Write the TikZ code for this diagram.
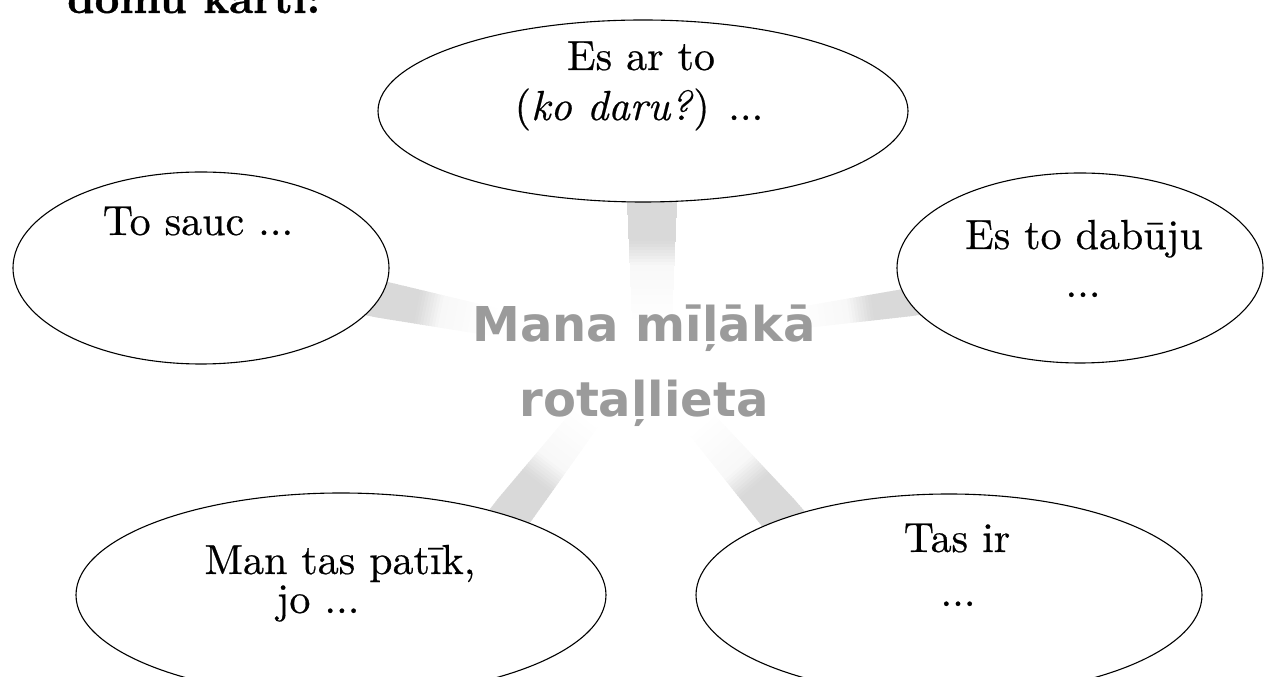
\documentclass[tikz,border=0pt]{standalone}
\usepackage{fontspec}
\newfontfamily\ctrfont{DejaVu Sans}
\newfontfamily\bubfont{lmroman10-regular.otf}[ItalicFont=lmroman10-italic.otf, FakeBold=0.5]
\newfontfamily\headfont{lmroman10-bold.otf}[FakeBold=0.8]
\usetikzlibrary{shapes.geometric,calc}
\definecolor{conngray}{RGB}{217,217,217}
\definecolor{ctrgray}{RGB}{155,155,155}
\newcommand{\connband}[4]{%
  \foreach \dd in {-30,-27,...,120}{%
    \pgfmathtruncatemacro\gg{\dd<38 ? 100 : (\dd<62 ? 100-(\dd-38)*3.3 : max(0,20-(\dd-62)/3))}%
    \pgfmathsetmacro\ww{#3+(#4-#3)*max(\dd,0)/120}%
    \draw[line width=\ww pt, draw=conngray!\gg!white] ($(#1)!\dd pt!(#2)$) -- ($(#1)!\dd pt+4pt!(#2)$);
  }}
\begin{document}
\begin{tikzpicture}[x=1pt,y=1pt,
  bub/.style={ellipse, draw=black, line width=1.1pt, fill=white, inner sep=0pt, outer sep=0pt},
  lbl/.style={anchor=base, inner sep=0pt, font=\bubfont\fontsize{42}{50}\selectfont},
  ctr/.style={anchor=base, inner sep=0pt, text=ctrgray, font=\ctrfont\bfseries\fontsize{48}{56}\selectfont}]
\useasboundingbox (0,0) rectangle (1264,677);
\clip (0,0) rectangle (1264,677);

% connector coordinates
\coordinate (tS) at (652,475); \coordinate (tE) at (652,312);
\coordinate (lS) at (379,378); \coordinate (lE) at (644,325);
\coordinate (rS) at (911,375); \coordinate (rE) at (644,337);
\coordinate (blS) at (513,165); \coordinate (blE) at (627,312);
\coordinate (brS) at (780,162); \coordinate (brE) at (650,312);

\connband{tS}{tE}{50}{40}
\connband{lS}{lE}{37}{28}
\connband{rS}{rE}{28}{21}
\connband{blS}{blE}{40}{30}
\connband{brS}{brE}{42}{32}

% ellipses
\node[bub, minimum width=530pt, minimum height=182pt] (top) at (643,566) {};
\node[bub, minimum width=376pt, minimum height=192pt] (left) at (201,409) {};
\node[bub, minimum width=366pt, minimum height=190pt] (right) at (1080,409) {};
\node[bub, minimum width=530pt, minimum height=204pt] (bl) at (341,82) {};
\node[bub, minimum width=506pt, minimum height=202pt] (br) at (949,82) {};

% texts
\node[lbl] (top1) at (641,607) {Es ar to};
\node[lbl] (top2) at (639,557) {(\textit{ko daru?}) ...};
\node[lbl] (left1) at (198,442) {To sauc ...};
\node[lbl] (right1) at (1084,428) {Es to dabūju};
\node[lbl] (right2) at (1083,380) {...};
\node[lbl] (bl1) at (340,103) {Man tas patīk,};
\node[lbl] (bl2) at (318,64) {jo ...};
\node[lbl] (br1) at (957,125) {Tas ir};
\node[lbl] (br2) at (958,71) {...};

\node[ctr] (c1) at (644,335) {Mana mīļākā};
\node[ctr] (c2) at (644,260) {rotaļlieta};

\node[anchor=base west, inner sep=0pt, font=\headfont\fontsize{43}{50}\selectfont] (head) at (67,664) {domu karti:};
\end{tikzpicture}
\end{document}
